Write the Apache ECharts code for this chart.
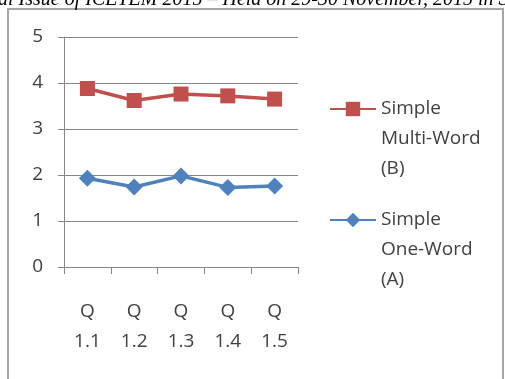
<!DOCTYPE html>
<html>
<head>
<meta charset="utf-8">
<script src="https://cdn.jsdelivr.net/npm/echarts@6/dist/echarts.min.js"></script>
<style>
  html, body { margin: 0; padding: 0; background: #fff; }
  #chart { width: 505px; height: 379px; }
</style>
</head>
<body>
<div id="chart"></div>
<script>
// Question categories along the x axis
const categories = ['Q\n1.1', 'Q\n1.2', 'Q\n1.3', 'Q\n1.4', 'Q\n1.5'];
// Mean scores per question
const multiWordB = [3.88, 3.62, 3.76, 3.72, 3.65];
const oneWordA = [1.93, 1.74, 1.98, 1.73, 1.76];
const seriesNames = ['Simple\nMulti-Word\n(B)', 'Simple\nOne-Word\n(A)'];
const headerText = 'al Issue of ICETEM 2015 \u2013 Held on 29-30 November, 2015 in S';

const RED = '#C0504D';
const BLUE = '#4F81BD';
const AXIS = '#868686';
const TEXT = '#404040';
const FONT = 'Open Sans';

const chart = echarts.init(document.getElementById('chart'), null, { renderer: 'canvas' });

function legendFor(name, top) {
  return {
    orient: 'vertical',
    left: 324,
    top: top,
    itemWidth: 46,
    itemHeight: 18,
    selectedMode: false,
    data: [name],
    // two blank lines above the name put its first line level with the icon
    formatter: n => '\n\n' + n,
    textStyle: {
      fontFamily: FONT,
      fontSize: 19,
      lineHeight: 30,
      color: TEXT
    }
  };
}

chart.setOption({
  animation: false,
  graphic: [
    {
      type: 'rect',
      shape: { x: 8, y: 9, width: 495, height: 420 },
      style: { fill: 'none', stroke: '#a6a6a6', lineWidth: 2 },
      silent: true
    },
    {
      type: 'text',
      x: -2,
      y: 10,
      style: {
        text: headerText,
        font: 'italic 20px "Liberation Serif"',
        fill: '#000',
        verticalAlign: 'bottom'
      },
      silent: true
    }
  ],
  legend: [legendFor(seriesNames[0], 29), legendFor(seriesNames[1], 140)],
  grid: { left: 64, right: 207, top: 37, bottom: 112, containLabel: false },
  xAxis: {
    type: 'category',
    data: categories,
    boundaryGap: true,
    axisLine: { lineStyle: { color: AXIS, width: 1 } },
    axisTick: { show: true, length: 7, lineStyle: { color: AXIS } },
    axisLabel: {
      margin: 30,
      fontFamily: FONT,
      fontSize: 19,
      lineHeight: 30,
      color: TEXT,
      interval: 0
    },
    splitLine: { show: false }
  },
  yAxis: {
    type: 'value',
    min: 0,
    max: 5,
    interval: 1,
    axisLine: { show: true, lineStyle: { color: AXIS, width: 1 } },
    axisTick: { show: true, length: 6, lineStyle: { color: AXIS } },
    axisLabel: {
      margin: 21,
      fontFamily: FONT,
      fontSize: 19,
      color: TEXT
    },
    splitLine: { show: true, lineStyle: { color: AXIS, width: 1 } }
  },
  series: [
    {
      name: seriesNames[0],
      type: 'line',
      data: multiWordB,
      symbol: 'rect',
      symbolSize: 15,
      color: RED,
      lineStyle: { width: 3.5, color: RED },
      itemStyle: { color: RED }
    },
    {
      name: seriesNames[1],
      type: 'line',
      data: oneWordA,
      symbol: 'diamond',
      symbolSize: 17,
      color: BLUE,
      lineStyle: { width: 3.5, color: BLUE },
      itemStyle: { color: BLUE }
    }
  ]
});
</script>
</body>
</html>
